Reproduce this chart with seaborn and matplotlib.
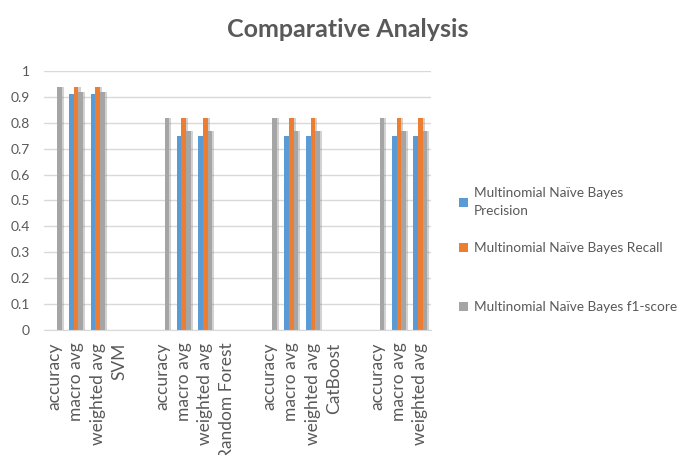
import numpy as np
import pandas as pd
import seaborn as sns
import matplotlib
matplotlib.use("Agg")
import matplotlib.pyplot as plt
import matplotlib.patheffects as pe

# Category slots along the x axis ("" = empty spacer row)
tick_labels = [
    "accuracy", "macro avg", "weighted avg", "SVM", "",
    "accuracy", "macro avg", "weighted avg", "Random Forest", "",
    "accuracy", "macro avg", "weighted avg", "CatBoost", "",
    "accuracy", "macro avg", "weighted avg",
]
nan = np.nan
precision = [nan, 0.91, 0.91, nan, nan,
             nan, 0.75, 0.75, nan, nan,
             nan, 0.75, 0.75, nan, nan,
             nan, 0.75, 0.75]
recall = [nan, 0.94, 0.94, nan, nan,
          nan, 0.82, 0.82, nan, nan,
          nan, 0.82, 0.82, nan, nan,
          nan, 0.82, 0.82]
f1_score = [0.94, 0.92, 0.92, nan, nan,
            0.82, 0.77, 0.77, nan, nan,
            0.82, 0.77, 0.77, nan, nan,
            0.82, 0.77, 0.77]
series_names = [
    "Multinomial Naïve Bayes\nPrecision",
    "Multinomial Naïve Bayes Recall",
    "Multinomial Naïve Bayes f1-score",
]
colors = ["#5B9BD5", "#ED7D31", "#A5A5A5"]

slots = [f"s{i}" for i in range(len(tick_labels))]
rows = []
for name, vals in zip(series_names, [precision, recall, f1_score]):
    for s, v in zip(slots, vals):
        rows.append({"slot": s, "series": name, "value": v})
df = pd.DataFrame(rows)

sns.set_style("white")
plt.rcParams["font.family"] = ["Lato", "DejaVu Sans"]
text_col = "#595959"

fig = plt.figure(figsize=(6.82, 4.55), dpi=100)
ax = fig.add_axes([0.0645, 0.2747, 0.5675, 0.5693])

sns.barplot(data=df, x="slot", y="value", hue="series", order=slots,
            hue_order=series_names, palette=colors, width=0.63,
            saturation=1, ax=ax, legend=True)

for bar in ax.patches:
    bar.set_linewidth(0)
    bar.set_path_effects([pe.SimplePatchShadow(offset=(1.5, -0.5),
                                               shadow_rgbFace="#7f7f7f",
                                               alpha=0.35),
                          pe.Normal()])

ax.set_ylim(0, 1)
ax.set_xlim(-0.5, len(slots) - 0.5)
ax.set_yticks(np.arange(0, 1.01, 0.1))
ax.set_yticklabels(["0", "0.1", "0.2", "0.3", "0.4", "0.5", "0.6",
                    "0.7", "0.8", "0.9", "1"])
ax.set_xticks(range(len(slots)))
ax.set_xticklabels(tick_labels, rotation=90, va="top", ha="center")
ax.tick_params(axis="both", length=0, colors=text_col)
ax.tick_params(axis="y", pad=10, labelsize=10)
ax.tick_params(axis="x", pad=9, labelsize=12.5)
ax.grid(axis="y", color="#D9D9D9", linewidth=1)
ax.set_axisbelow(True)
for side in ["top", "right", "left"]:
    ax.spines[side].set_visible(False)
ax.spines["bottom"].set_color("#D9D9D9")
ax.set_xlabel("")
ax.set_ylabel("")

handles, labels = ax.get_legend_handles_labels()
ax.legend_.remove()

legend_kw = dict(frameon=False, fontsize=9.8, labelcolor=text_col,
                 handlelength=0.65, handleheight=0.65, handletextpad=0.45)
leg1 = fig.legend(handles[:2], labels[:2], loc="upper left",
                  bbox_to_anchor=(0.655, 0.615), labelspacing=1.8,
                  **legend_kw)
leg2 = fig.legend(handles[2:], labels[2:], loc="center left",
                  bbox_to_anchor=(0.655, 0.325), **legend_kw)
for leg in (leg1, leg2):
    for t in leg.get_texts():
        t.set_linespacing(1.6)
    for h in leg.legend_handles:
        h.set_path_effects([])

fig.suptitle("Comparative Analysis", x=0.51, y=0.96, fontsize=18,
             fontweight="bold", color=text_col)

fig.savefig("out.png", dpi=100)
